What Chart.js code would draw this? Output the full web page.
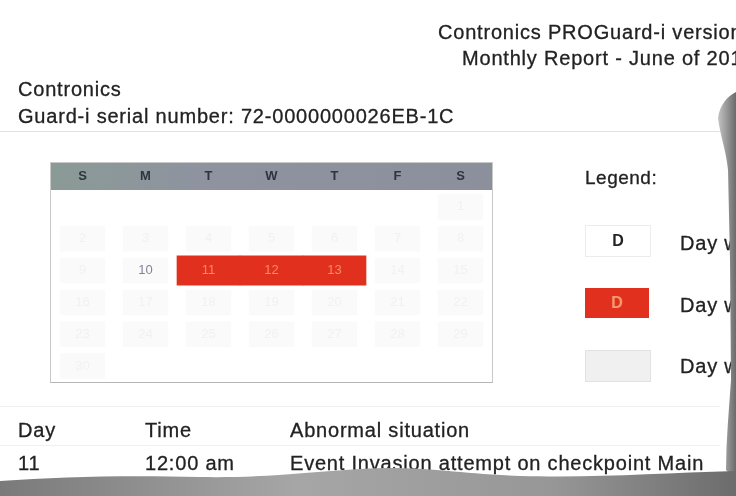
<!DOCTYPE html>
<html>
<head>
<meta charset="utf-8">
<script src="https://cdn.jsdelivr.net/npm/chart.js@4.4.1/dist/chart.umd.min.js"></script>
<style>
  html, body { margin: 0; padding: 0; background: #fff; }
  #page {
    position: relative; width: 736px; height: 496px; overflow: hidden;
    font-family: "Liberation Sans", Arial, sans-serif; color: #222;
    filter: blur(0.7px);
  }
  .t { position: absolute; white-space: nowrap; font-size: 20px; line-height: 24px;
       letter-spacing: 0.8px; -webkit-text-stroke: 0.3px #222; }
  .hr { position: absolute; left: 0; height: 1px; background: #e2e2e2; }
  #cal { position: absolute; left: 50px; top: 162px; width: 441px; height: 219px;
         border: 1px solid #c9c9c9; border-bottom-color: #b5b5b5; }
  .lbox { position: absolute; left: 585px; width: 64px; height: 30px;
          font: bold 16px "Liberation Sans", Arial, sans-serif; text-align: center; line-height: 30px; }
  #tear { position: absolute; left: 0; top: 0; }
</style>
</head>
<body>
<div id="page">
  <div class="t" style="left:438px; top:20px;">Contronics PROGuard-i version 2.0</div>
  <div class="t" style="left:462px; top:46px;">Monthly Report - June of 2013</div>
  <div class="t" style="left:18px; top:77px;">Contronics</div>
  <div class="t" style="left:18px; top:104px;">Guard-i serial number: 72-0000000026EB-1C</div>
  <div class="hr" style="top:131px; width:720px;"></div>

  <div id="cal"><canvas id="calendar" width="441" height="219"></canvas></div>

  <div class="t" style="left:585px; top:166px; font-size:19px; letter-spacing:0.5px;">Legend:</div>
  <div class="lbox" style="top:225px; background:#fff; border:1px solid #ececec; color:#222;">D</div>
  <div class="t" style="left:680px; top:231px;">Day without events</div>
  <div class="lbox" style="top:288px; background:#e2301f; color:#f59a72;">D</div>
  <div class="t" style="left:680px; top:293px;">Day with events</div>
  <div class="lbox" style="top:350px; background:#f0f0f0; border:1px solid #e2e2e2;"></div>
  <div class="t" style="left:680px; top:354px;">Day without records</div>

  <div class="hr" style="top:406px; width:720px; background:#eeeeee;"></div>
  <div class="t" style="left:18px; top:418px;">Day</div>
  <div class="t" style="left:145px; top:418px;">Time</div>
  <div class="t" style="left:290px; top:418px;">Abnormal situation</div>
  <div class="hr" style="top:445px; width:720px; background:#f0f0f0;"></div>
  <div class="t" style="left:18px; top:451px;">11</div>
  <div class="t" style="left:145px; top:451px;">12:00 am</div>
  <div class="t" style="left:290px; top:451px;">Event Invasion attempt on checkpoint Main</div>
  <div class="t" style="left:290px; top:476px;">Entrance</div>

  <svg id="tear" width="736" height="496">
    <defs>
      <linearGradient id="gb" x1="0" y1="0" x2="1" y2="0">
        <stop offset="0" stop-color="#7a7a7a"/>
        <stop offset="0.4" stop-color="#a6a6a6"/>
        <stop offset="0.75" stop-color="#979797"/>
        <stop offset="1" stop-color="#6c6c6c"/>
      </linearGradient>
      <linearGradient id="gr" x1="0" y1="0" x2="1" y2="0">
        <stop offset="0" stop-color="#c4c4c4"/>
        <stop offset="1" stop-color="#6a6a6a"/>
      </linearGradient>
    </defs>
    <path d="M736,92 C728,96 720,104 718,118 C720,135 726,150 728,170 L730,260 L731,380 C729,410 726,440 726,470 L736,480 Z" fill="url(#gr)"/>
    <path d="M0,481 C60,477 120,475 200,477 C260,478 300,473 360,469 C420,465 450,473 520,476 C600,478 660,473 736,471 L736,496 L0,496 Z" fill="url(#gb)"/>
  </svg>
</div>

<script>
// Calendar layout for June 2013 (Sunday first)
var weekdays = ['S', 'M', 'T', 'W', 'T', 'F', 'S'];
var weeks = [
  [null, null, null, null, null, null, 1],
  [2, 3, 4, 5, 6, 7, 8],
  [9, 10, 11, 12, 13, 14, 15],
  [16, 17, 18, 19, 20, 21, 22],
  [23, 24, 25, 26, 27, 28, 29],
  [30, null, null, null, null, null, null]
];
// Days with abnormal events
var alarmDays = [11, 12, 13];
// Days printed clearly on the sheet
var visibleDays = [10];

var datasets = [];
weeks.forEach(function (week, r) {
  datasets.push({
    data: week.map(function (d) { return d === null ? null : [r + 1 - 0.4, r + 1 + 0.4]; }),
    backgroundColor: '#fafafa',
    barPercentage: 0.72,
    categoryPercentage: 1,
    grouped: false,
    order: 2
  });
  var hits = week.map(function (d) { return alarmDays.indexOf(d) >= 0 ? [r + 1 - 0.46, r + 1 + 0.46] : null; });
  if (hits.some(function (v) { return v !== null; })) {
    datasets.push({
      data: hits,
      backgroundColor: '#e2301f',
      barPercentage: 1,
      categoryPercentage: 1,
      grouped: false,
      order: 1
    });
  }
});

var calendarText = {
  id: 'calendarText',
  beforeDraw: function (chart) {
    var ctx = chart.ctx;
    var grad = ctx.createLinearGradient(0, 0, chart.width, 0);
    grad.addColorStop(0, '#8a9a96');
    grad.addColorStop(0.35, '#8f93a0');
    grad.addColorStop(1, '#8b909c');
    ctx.save();
    ctx.fillStyle = grad;
    ctx.fillRect(0, 0, chart.width, chart.chartArea.top - 1);
    ctx.restore();
  },
  afterDatasetsDraw: function (chart) {
    var ctx = chart.ctx, x = chart.scales.x, y = chart.scales.y;
    ctx.save();
    ctx.textAlign = 'center';
    ctx.textBaseline = 'middle';
    ctx.font = 'bold 13px "Liberation Sans", Arial, sans-serif';
    ctx.fillStyle = '#2e3440';
    weekdays.forEach(function (w, i) {
      ctx.fillText(w, x.getPixelForValue(i), (chart.chartArea.top - 1) / 2);
    });
    ctx.font = '13px "Liberation Sans", Arial, sans-serif';
    weeks.forEach(function (week, r) {
      week.forEach(function (d, i) {
        if (d === null) return;
        if (alarmDays.indexOf(d) >= 0) ctx.fillStyle = '#f58a62';
        else if (visibleDays.indexOf(d) >= 0) ctx.fillStyle = '#7f8596';
        else ctx.fillStyle = '#f1f1f1';
        ctx.fillText(String(d), x.getPixelForValue(i), y.getPixelForValue(r + 1));
      });
    });
    ctx.restore();
  }
};

new Chart(document.getElementById('calendar'), {
  type: 'bar',
  data: { labels: weekdays, datasets: datasets },
  options: {
    responsive: false,
    animation: false,
    layout: { padding: { top: 28 } },
    plugins: { legend: { display: false }, tooltip: { enabled: false } },
    scales: {
      x: { display: false },
      y: { display: false, min: 0.5, max: 6.5, reverse: true }
    }
  },
  plugins: [calendarText]
});
</script>
</body>
</html>
